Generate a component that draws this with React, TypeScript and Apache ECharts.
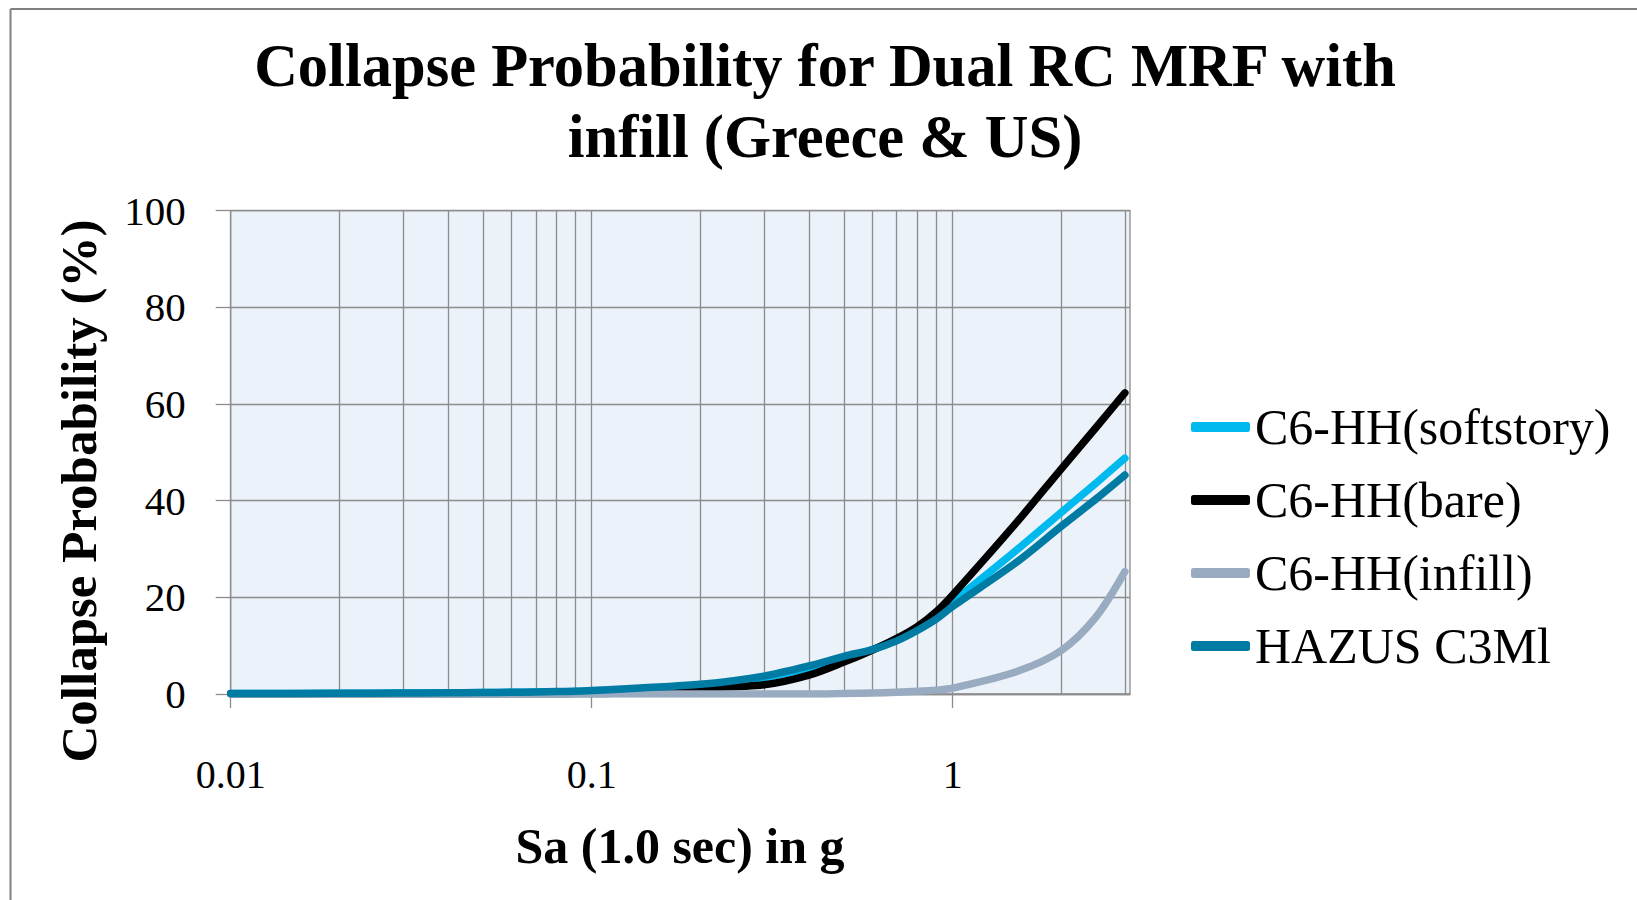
import React, { useEffect, useRef } from "react";
import * as echarts from "echarts";

// Sa (1.0 sec) in g
const SA = [0.01, 0.02, 0.03, 0.04, 0.05, 0.06, 0.07, 0.08, 0.09, 0.1, 0.2, 0.3, 0.4, 0.5, 0.6, 0.7, 0.8, 0.9, 1, 1.5, 2, 2.5, 3];
// Collapse probability (%)
const SOFTSTORY = [0.1, 0.15, 0.2, 0.25, 0.3, 0.35, 0.4, 0.45, 0.5, 0.6, 1.8, 3.4, 5.4, 7.5, 9.2, 11.2, 13.6, 16.1, 19.0, 29.7, 37.6, 43.7, 48.8];
const BARE = [0.05, 0.05, 0.05, 0.05, 0.05, 0.05, 0.05, 0.05, 0.1, 0.1, 1.2, 1.9, 3.9, 6.6, 9.1, 11.5, 14.0, 17.0, 20.5, 35.4, 46.6, 55.2, 62.3];
const INFILL = [0, 0, 0, 0, 0, 0, 0, 0, 0, 0, 0, 0, 0, 0.1, 0.2, 0.35, 0.55, 0.8, 1.2, 4.6, 9.0, 16.0, 25.3];
const HAZUS = [0.1, 0.15, 0.2, 0.25, 0.3, 0.35, 0.4, 0.5, 0.55, 0.7, 2.0, 3.7, 5.8, 7.8, 9.2, 11.0, 13.2, 15.5, 18.1, 27.2, 34.7, 40.4, 45.3];

const SERIES_NAMES = ["C6-HH(softstory)", "C6-HH(bare)", "C6-HH(infill)", "HAZUS C3Ml"];
const SERIES_COLORS = ["#00B9EF", "#000000", "#98ABC0", "#007BA3"];

const X_LABELS = [0.01, 0.1, 1];
const X_GRID = [0.02, 0.03, 0.04, 0.05, 0.06, 0.07, 0.08, 0.09, 0.1, 0.2, 0.3, 0.4, 0.5, 0.6, 0.7, 0.8, 0.9, 1, 2, 3];

const TITLE_LINES = ["Collapse Probability for Dual RC MRF with", "infill (Greece & US)"];
const X_TITLE = "Sa (1.0 sec) in g";
const Y_TITLE = "Collapse Probability (%)";

export default function App() {
  const ref = useRef<HTMLDivElement>(null);

  useEffect(() => {
    const chart = echarts.init(ref.current!, null, { renderer: "svg" });
    const font = "'Liberation Serif', 'Times New Roman', serif";
    const gridColor = "#8c8c8c";

    const valueSets = [SOFTSTORY, BARE, INFILL, HAZUS];
    const lineSeries = SERIES_NAMES.map((name, k) => ({
      name,
      type: "line",
      data: SA.map((x, i) => [x, valueSets[k][i]]),
      showSymbol: false,
      symbol: "none",
      smooth: 0.3,
      z: 3,
      lineStyle: { color: SERIES_COLORS[k], width: 7.5, cap: "round", join: "round" },
      itemStyle: { color: SERIES_COLORS[k] },
    }));

    const gridSeries = {
      name: "__grid",
      type: "line",
      data: [[0.01, 0]],
      showSymbol: false,
      symbol: "none",
      lineStyle: { opacity: 0 },
      z: 1,
      markLine: {
        silent: true,
        z: 1,
        symbol: ["none", "none"],
        label: { show: false },
        lineStyle: { color: gridColor, width: 1.3, type: "solid" },
        emphasis: { disabled: true },
        data: X_GRID.map((v) => ({ xAxis: v })),
      },
    };

    chart.setOption({
      animation: false,
      backgroundColor: "#ffffff",
      grid: {
        left: 230.7,
        top: 210.7,
        right: 1637 - 1130,
        bottom: 900 - 694,
        show: true,
        backgroundColor: "#EBF2F9",
        borderColor: gridColor,
        borderWidth: 1.3,
      },
      legend: {
        orient: "vertical",
        left: 1186,
        top: 393,
        padding: 5,
        itemWidth: 59,
        itemHeight: 10,
        itemGap: 15,
        icon: "roundRect",
        selectedMode: false,
        data: SERIES_NAMES,
        textStyle: { fontFamily: font, fontSize: 50, color: "#000", lineHeight: 58 },
      },
      xAxis: {
        type: "log",
        logBase: 10,
        min: 0.01,
        max: 3.1,
        axisLine: { show: true, onZero: false, lineStyle: { color: gridColor, width: 1.3 } },
        axisTick: { show: true, length: 14, customValues: X_LABELS, lineStyle: { color: gridColor, width: 1.3 } },
        axisLabel: {
          customValues: X_LABELS,
          margin: 60,
          fontFamily: font,
          fontSize: 40,
          color: "#000",
          formatter: (v: number) => String(+Number(v).toPrecision(3)),
        },
        splitLine: { show: false },
      },
      yAxis: {
        type: "value",
        min: 0,
        max: 100,
        interval: 20,
        axisLine: { show: true, lineStyle: { color: gridColor, width: 1.3 } },
        axisTick: { show: true, length: 15, lineStyle: { color: gridColor, width: 1.3 } },
        axisLabel: { margin: 45, fontFamily: font, fontSize: 41, color: "#000" },
        splitLine: { show: true, lineStyle: { color: gridColor, width: 1.3 } },
      },
      graphic: [
        { type: "line", shape: { x1: 10.5, y1: 9, x2: 1637, y2: 9 }, style: { stroke: "#808080", lineWidth: 2 } },
        { type: "line", shape: { x1: 10.5, y1: 9, x2: 10.5, y2: 900 }, style: { stroke: "#808080", lineWidth: 2 } },
        {
          type: "text", x: 825, y: 65,
          style: { text: TITLE_LINES[0], fontFamily: font, fontSize: 60.5, fontWeight: "bold", fill: "#000", align: "center", verticalAlign: "middle" },
        },
        {
          type: "text", x: 825, y: 136,
          style: { text: TITLE_LINES[1], fontFamily: font, fontSize: 60.5, fontWeight: "bold", fill: "#000", align: "center", verticalAlign: "middle" },
        },
        {
          type: "text", x: 680, y: 846,
          style: { text: X_TITLE, fontFamily: font, fontSize: 50, fontWeight: "bold", fill: "#000", align: "center", verticalAlign: "middle" },
        },
        {
          type: "text", x: 79, y: 491, rotation: Math.PI / 2,
          style: { text: Y_TITLE, fontFamily: font, fontSize: 51, fontWeight: "bold", fill: "#000", align: "center", verticalAlign: "middle" },
        },
      ],
      series: [gridSeries, ...lineSeries],
    });

    return () => chart.dispose();
  }, []);

  return <div ref={ref} style={{ position: "absolute", left: 0, top: 0, width: 1637, height: 900 }} />;
}
